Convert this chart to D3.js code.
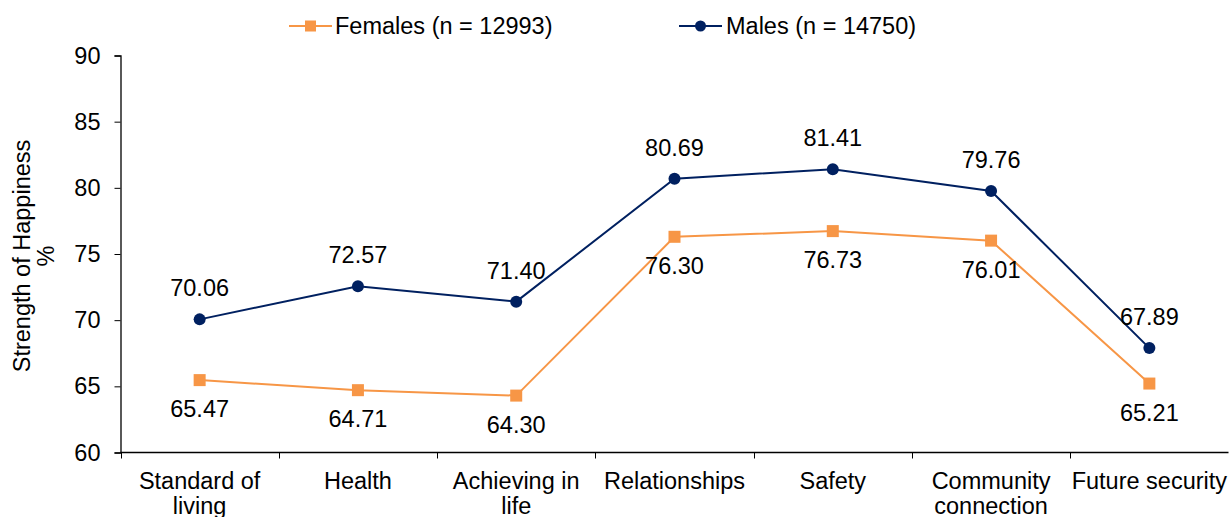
<!DOCTYPE html>
<html>
<head>
<meta charset="utf-8">
<script src="https://cdn.jsdelivr.net/npm/d3@7"></script>
<style>
  body { margin: 0; background: #fff; }
  text { font-family: Arial, "Liberation Sans", sans-serif; fill: #000; }
</style>
</head>
<body>
<script>
let categories = ['Standard of living', 'Health', 'Achieving in life', 'Relationships', 'Safety', 'Community connection', 'Future security']
let catLines = [['Standard of', 'living'], ['Health'], ['Achieving in', 'life'], ['Relationships'], ['Safety'], ['Community', 'connection'], ['Future security']]
let females = [65.47, 64.71, 64.30, 76.30, 76.73, 76.01, 65.21]
let males = [70.06, 72.57, 71.40, 80.69, 81.41, 79.76, 67.89]
let yTicks = [60, 65, 70, 75, 80, 85, 90]

let W = 1229, H = 517
let fs = 23.5
let orange = '#F79646', navy = '#002060'

let svg = d3.select('body').append('svg')
  .attr('width', W)
  .attr('height', H)

let x = d3.scalePoint()
  .domain(categories)
  .range([120.5, 1228.5])
  .padding(0.5)

let y = d3.scaleLinear()
  .domain([60, 90])
  .range([452.5, 55.5])

// y axis
let axisY = svg.append('g')
  .attr('transform', 'translate(120.5,0)')
  .call(d3.axisLeft(y).tickValues(yTicks).tickSize(6).tickPadding(14))
axisY.select('.domain').attr('stroke', '#000').attr('stroke-width', 1.3)
axisY.selectAll('.tick line').attr('stroke', '#000')
axisY.selectAll('.tick text').attr('font-size', fs).attr('font-family', 'Arial, "Liberation Sans", sans-serif').attr('fill', '#000')

// x axis, ticks between categories
let step = x.step()
let bounds = d3.range(categories.length + 1).map((i) => 120.5 + i * step)
let axisX = svg.append('g')
  .attr('transform', 'translate(0,452.5)')
axisX.append('line')
  .attr('x1', 120.5).attr('x2', 1228.5)
  .attr('stroke', '#000').attr('stroke-width', 1.3)
axisX.selectAll('line.tk')
  .data(bounds)
  .enter().append('line')
  .attr('class', 'tk')
  .attr('x1', (d) => Math.round(d) + 0.5).attr('x2', (d) => Math.round(d) + 0.5)
  .attr('y1', 0).attr('y2', 6)
  .attr('stroke', '#000')

let catText = axisX.selectAll('text.cat')
  .data(categories)
  .enter().append('text')
  .attr('class', 'cat')
  .attr('text-anchor', 'middle')
  .attr('font-size', fs)
  .attr('transform', (d) => 'translate(' + x(d) + ',0)')
catText.selectAll('tspan')
  .data((d, i) => catLines[i])
  .enter().append('tspan')
  .attr('x', 0)
  .attr('y', (d, i) => 36 + i * 25)
  .text((d) => d)

// y axis title
let title = svg.append('text')
  .attr('transform', 'translate(30,256) rotate(-90)')
  .attr('text-anchor', 'middle')
  .attr('font-size', fs)
title.append('tspan').attr('x', 0).attr('y', 0).text('Strength of Happiness')
title.append('tspan').attr('x', 0).attr('y', 24).text('%')

let line = d3.line()
  .x((d, i) => x(categories[i]))
  .y((d) => y(d))

// females
svg.append('path')
  .datum(females)
  .attr('d', line)
  .attr('fill', 'none')
  .attr('stroke', orange)
  .attr('stroke-width', 2)

svg.selectAll('rect.fm')
  .data(females)
  .enter().append('rect')
  .attr('class', 'fm')
  .attr('x', (d, i) => x(categories[i]) - 6)
  .attr('y', (d) => y(d) - 6)
  .attr('width', 12).attr('height', 12)
  .attr('fill', orange)

svg.selectAll('text.fl')
  .data(females)
  .enter().append('text')
  .attr('class', 'fl')
  .attr('text-anchor', 'middle')
  .attr('font-size', fs)
  .attr('x', (d, i) => x(categories[i]))
  .attr('y', (d) => y(d) + 37)
  .text(d3.format('.2f'))

// males
svg.append('path')
  .datum(males)
  .attr('d', line)
  .attr('fill', 'none')
  .attr('stroke', navy)
  .attr('stroke-width', 2)

svg.selectAll('circle.mm')
  .data(males)
  .enter().append('circle')
  .attr('class', 'mm')
  .attr('cx', (d, i) => x(categories[i]))
  .attr('cy', (d) => y(d))
  .attr('r', 6)
  .attr('fill', navy)

svg.selectAll('text.ml')
  .data(males)
  .enter().append('text')
  .attr('class', 'ml')
  .attr('text-anchor', 'middle')
  .attr('font-size', fs)
  .attr('x', (d, i) => x(categories[i]))
  .attr('y', (d) => y(d) - 23)
  .text(d3.format('.2f'))

// legend
let legend = svg.append('g')
let lf = legend.append('g').attr('transform', 'translate(289,26)')
lf.append('line').attr('x1', 0).attr('x2', 43).attr('stroke', orange).attr('stroke-width', 2)
lf.append('rect').attr('x', 16).attr('y', -5.5).attr('width', 11).attr('height', 11).attr('fill', orange)
lf.append('text').attr('x', 46).attr('y', 8).attr('font-size', fs).text('Females (n = 12993)')

let lm = legend.append('g').attr('transform', 'translate(679,26)')
lm.append('line').attr('x1', 0).attr('x2', 43).attr('stroke', navy).attr('stroke-width', 2)
lm.append('circle').attr('cx', 21.5).attr('cy', 0).attr('r', 5.5).attr('fill', navy)
lm.append('text').attr('x', 47).attr('y', 8).attr('font-size', fs).text('Males (n = 14750)')
</script>
</body>
</html>
